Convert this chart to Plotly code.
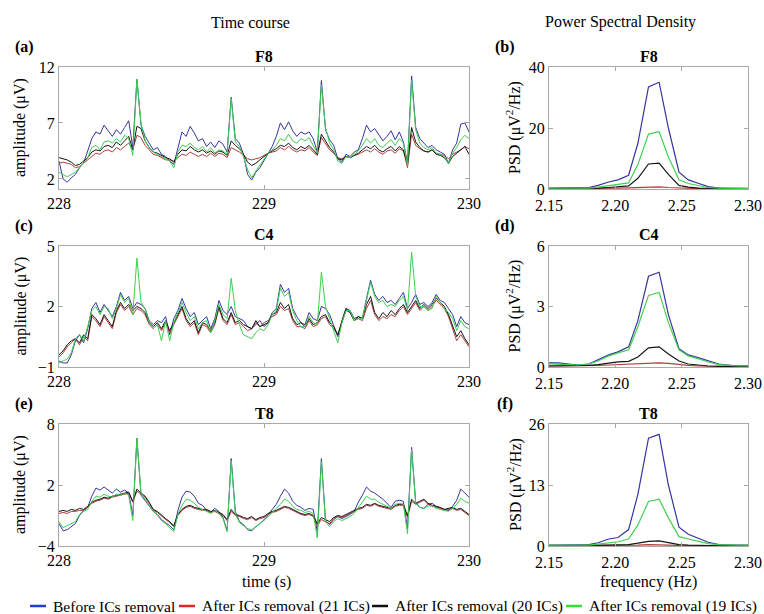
import plotly.graph_objects as go

# ---------------- DATA ----------------
t_start = 228.0
sample_step = 0.02   # s
n_samples = 101
time_s = [round(t_start + sample_step * i, 2) for i in range(n_samples)]

series_names = ["Before ICs removal", "After ICs removal (21 ICs)",
                "After ICs removal (20 ICs)", "After ICs removal (19 ICs)"]

# F8 time course (µV)
f8_before = [3.6, 2.0, 1.7, 2.1, 2.4, 3.0, 3.4, 4.6, 5.6, 6.2, 6.0, 6.8, 6.3, 5.8, 6.4, 6.0, 6.6, 7.2, 4.8, 10.9,
             6.8, 5.8, 5.2, 4.6, 4.8, 4.2, 4.0, 3.6, 3.3, 4.8, 6.2, 5.8, 6.7, 6.1, 5.4, 5.6, 4.9, 5.3, 4.8, 5.4,
             5.1, 4.4, 9.3, 5.6, 5.2, 4.2, 2.4, 1.9, 2.6, 3.0, 3.6, 4.2, 4.9, 5.8, 7.0, 6.4, 7.1, 6.3, 5.8, 6.2,
             6.0, 6.2, 5.6, 4.4, 10.8, 6.4, 5.5, 5.0, 3.8, 3.5, 4.2, 4.0, 4.4, 4.6, 5.6, 6.8, 6.2, 6.5, 5.9, 5.4,
             5.8, 6.3, 5.5, 6.2, 5.3, 3.4, 11.2, 6.6, 5.6, 5.2, 4.8, 5.0, 4.6, 4.4, 4.2, 3.4, 4.6, 5.2, 6.9, 7.0, 6.2]
f8_21 = [3.4, 3.5, 3.4, 3.3, 3.0, 3.1, 3.4, 3.7, 4.0, 4.3, 4.2, 4.5, 4.6, 4.4, 4.8, 4.6, 4.9, 5.2, 4.6, 5.9,
         5.7, 5.0, 4.6, 4.2, 4.1, 3.9, 3.7, 3.7, 3.6, 3.9, 4.2, 4.1, 4.4, 4.2, 4.0, 4.2, 4.0, 4.3, 4.0, 4.3,
         4.2, 3.9, 4.8, 4.6, 4.4, 4.1, 3.8, 3.7, 3.8, 3.9, 4.1, 4.3, 4.4, 4.5, 4.8, 4.6, 4.9, 4.6, 4.4, 4.6,
         4.5, 4.8, 4.4, 4.1, 5.7, 5.1, 4.6, 4.3, 3.9, 3.8, 4.0, 3.9, 4.1, 4.2, 4.4, 4.6, 4.4, 4.7, 4.4, 4.2,
         4.5, 4.6, 4.3, 4.7, 4.5, 3.0, 6.0, 5.0, 4.7, 4.5, 4.4, 4.6, 4.3, 4.2, 4.1, 3.8, 4.2, 4.4, 4.6, 4.9, 4.7]
f8_20 = [3.9, 3.8, 3.7, 3.5, 3.2, 3.3, 3.6, 3.9, 4.4, 4.6, 4.5, 4.9, 5.0, 4.8, 5.3, 5.0, 5.4, 5.8, 4.6, 6.7,
         6.5, 5.4, 4.8, 4.4, 4.3, 4.1, 3.9, 3.8, 3.5, 4.2, 4.6, 4.5, 4.9, 4.6, 4.4, 4.6, 4.3, 4.5, 4.2, 4.5,
         4.4, 4.1, 5.4, 5.0, 4.7, 4.2, 3.5, 3.2, 3.4, 3.7, 4.0, 4.3, 4.5, 4.7, 5.0, 4.9, 5.2, 4.8, 4.6, 4.9,
         4.7, 5.0, 4.6, 4.2, 6.0, 5.4, 4.8, 4.4, 3.8, 3.7, 4.0, 3.9, 4.1, 4.3, 4.6, 4.9, 4.7, 5.0, 4.6, 4.4,
         4.7, 4.9, 4.5, 4.9, 4.6, 3.3, 6.6, 5.3, 4.8, 4.5, 4.4, 4.6, 4.2, 4.1, 3.9, 3.4, 4.0, 4.3, 4.6, 4.9, 4.2]
f8_19 = [2.6, 2.4, 2.2, 2.4, 2.6, 3.0, 3.4, 3.9, 4.8, 5.0, 4.6, 5.3, 5.4, 5.2, 5.6, 5.3, 5.9, 5.6, 4.1, 10.9,
         7.0, 5.4, 4.8, 4.4, 4.2, 4.0, 3.8, 3.6, 3.0, 4.4, 5.0, 4.9, 5.2, 4.8, 4.6, 4.9, 4.4, 4.8, 4.3, 4.6,
         4.5, 4.2, 9.2, 5.3, 4.9, 4.0, 2.8, 2.1, 2.7, 3.2, 3.8, 4.3, 4.6, 5.0, 5.6, 5.4, 6.0, 5.4, 5.2, 5.6,
         5.4, 5.7, 5.0, 4.3, 10.4, 6.6, 5.2, 4.6, 3.6, 3.4, 4.0, 3.9, 4.2, 4.5, 5.0, 5.6, 5.2, 5.6, 5.0, 4.8,
         5.2, 5.5, 5.0, 5.6, 5.2, 3.2, 10.8, 6.4, 5.2, 4.8, 4.6, 4.8, 4.3, 4.2, 4.0, 3.4, 4.3, 4.8, 5.5, 5.9, 5.6]

# C4 time course (µV)
c4_before = [-0.7, -0.8, -0.8, -0.4, 0.3, 0.6, 0.2, 0.9, 1.9, 2.2, 1.7, 2.1, 1.8, 1.5, 2.0, 2.7, 2.3, 2.5, 1.9, 2.2,
             2.1, 1.9, 1.3, 1.1, 1.3, 1.2, 1.5, 0.6, 1.4, 1.8, 2.4, 1.9, 1.5, 1.7, 1.1, 1.3, 1.5, 0.9, 1.4, 2.3,
             1.8, 1.6, 2.0, 1.5, 1.4, 1.3, 1.0, 0.9, 1.1, 1.3, 1.0, 1.2, 1.7, 1.9, 3.1, 2.7, 2.9, 1.9, 1.5, 1.2,
             1.1, 1.7, 1.4, 1.3, 2.0, 1.9, 1.6, 1.0, 0.5, 1.3, 1.9, 1.8, 1.4, 1.5, 1.4, 2.4, 3.3, 2.6, 2.3, 2.5,
             2.2, 2.3, 2.1, 2.4, 2.7, 1.9, 2.2, 2.6, 2.1, 2.2, 2.0, 2.2, 2.6, 2.3, 2.2, 1.9, 1.6, 1.0, 1.5, 1.2, 1.1]
c4_21 = [-0.5, -0.3, 0.0, 0.2, 0.4, 0.1, 0.5, 0.3, 1.5, 1.3, 1.0, 1.5, 1.2, 0.9, 1.7, 2.1, 1.8, 2.0, 1.6, 1.9,
         1.8, 1.6, 1.1, 0.9, 1.1, 0.8, 1.2, 0.7, 1.1, 1.5, 1.9, 1.3, 1.0, 1.2, 0.6, 1.1, 1.0, 0.7, 1.1, 1.9,
         1.3, 1.1, 1.6, 1.1, 1.2, 1.0, 0.8, 0.9, 1.2, 1.0, 1.2, 1.3, 1.5, 1.6, 2.0, 1.8, 1.9, 1.3, 1.0, 1.0,
         0.9, 1.3, 1.0, 1.1, 1.4, 1.5, 1.1, 0.9, 0.6, 1.2, 1.8, 1.7, 1.3, 1.4, 1.3, 1.9, 2.3, 1.6, 1.3, 1.5,
         1.4, 1.6, 1.5, 1.8, 2.0, 1.6, 1.9, 2.2, 1.8, 2.0, 1.8, 2.0, 2.3, 2.1, 1.9, 1.5, 0.9, 0.3, 0.6, 0.3, 0.0]
c4_20 = [-0.4, -0.2, 0.1, 0.3, 0.4, 0.2, 0.6, 0.4, 1.6, 1.4, 1.1, 1.6, 1.3, 1.0, 1.8, 2.2, 1.9, 2.1, 1.8, 2.0,
         1.9, 1.7, 1.2, 1.0, 1.2, 0.9, 1.3, 0.8, 1.2, 1.6, 2.0, 1.4, 1.1, 1.3, 0.7, 1.2, 1.1, 0.8, 1.2, 2.0,
         1.4, 1.2, 1.7, 1.2, 1.3, 1.1, 1.0, 0.9, 1.3, 1.0, 1.1, 1.2, 1.6, 1.7, 2.2, 1.9, 2.1, 1.4, 1.1, 1.2,
         1.0, 1.4, 1.1, 1.2, 1.5, 1.6, 1.2, 1.0, 0.6, 1.2, 1.9, 1.7, 1.3, 1.5, 1.4, 2.1, 2.5, 1.7, 1.4, 1.7,
         1.5, 1.8, 1.6, 1.9, 2.1, 1.7, 2.0, 2.3, 1.9, 2.1, 1.9, 2.1, 2.4, 2.2, 2.0, 1.6, 1.0, 0.5, 0.8, 0.4, 0.1]
c4_19 = [-0.8, -0.7, -0.6, -0.3, 0.4, 0.6, 0.3, 1.0, 1.8, 2.0, 1.6, 2.0, 1.9, 1.4, 1.9, 2.6, 2.2, 2.4, 1.6, 4.4,
         2.2, 1.9, 1.2, 0.9, 1.1, 0.3, 1.3, 0.3, 1.2, 1.7, 2.2, 1.7, 1.3, 1.5, 0.9, 1.2, 1.3, 0.7, 1.3, 2.1,
         1.6, 1.4, 3.4, 1.8, 1.1, 0.6, 0.5, 0.4, 0.7, 0.9, 0.8, 1.1, 1.6, 1.8, 2.9, 2.5, 2.7, 1.8, 1.3, 1.0,
         1.0, 1.5, 1.2, 1.1, 3.7, 2.0, 1.4, 0.8, 0.2, 1.2, 1.8, 1.8, 1.3, 1.4, 1.4, 2.3, 3.2, 2.5, 2.2, 2.3,
         2.0, 2.1, 2.0, 2.3, 2.5, 1.8, 4.7, 2.5, 2.0, 2.0, 1.8, 1.9, 2.5, 2.2, 1.9, 1.7, 1.4, 0.8, 1.3, 1.0, 0.9]

# T8 time course (µV)
t8_before = [-1.8, -2.5, -2.4, -2.1, -1.8, -1.0, -0.5, -0.2, 0.9, 1.7, 1.5, 1.8, 1.5, 1.2, 1.6, 1.3, 1.5, 1.2, -1.0, 6.6,
             1.0, 0.5, 0.0, -0.6, -0.9, -1.4, -1.7, -2.0, -2.4, -0.5, 0.8, 1.4, 1.3, 0.9, 0.2, 0.0, -0.5, -0.7, -0.3, -0.6,
             -1.2, -2.5, 4.6, -0.6, -1.6, -1.9, -2.4, -2.5, -2.1, -1.8, -1.4, -1.0, -0.4, 0.1, 0.9, 1.6, 1.2, 0.4, 0.0, -0.2,
             -0.5, -0.3, -0.4, -2.6, 4.6, -1.5, -1.9, -1.4, -1.1, -1.3, -1.1, -0.9, -0.6, 0.3, 1.0, 1.8, 1.4, 1.2, 0.9, 0.6,
             0.2, -0.2, 0.4, 0.5, 0.4, -2.3, 5.7, 0.3, -0.2, -0.3, 0.1, 0.2, -0.1, -0.3, -0.4, -0.5, -0.1, 0.5, 1.6, 1.2, 0.8]
t8_21 = [-0.8, -0.7, -0.8, -0.6, -0.6, -0.5, -0.5, -0.2, 0.2, 0.4, 0.5, 0.7, 0.6, 0.8, 0.9, 1.0, 1.1, 1.2, 0.3, 1.4,
         1.1, 0.8, 0.2, -0.5, -0.7, -1.1, -1.4, -1.7, -2.1, -1.0, -0.5, -0.2, -0.1, -0.3, -0.4, -0.5, -0.5, -0.7, -0.6, -0.8,
         -1.0, -1.5, -0.6, -1.0, -1.1, -1.3, -1.4, -1.2, -1.5, -1.3, -1.2, -0.9, -0.7, -0.6, -0.4, -0.2, -0.3, -0.5, -0.7, -0.9,
         -1.0, -0.9, -1.1, -2.0, -1.4, -1.6, -1.8, -1.3, -1.1, -1.2, -1.0, -0.8, -0.6, -0.4, -0.3, 0.0, -0.1, 0.1, -0.1, -0.2,
         -0.3, -0.4, -0.1, 0.0, 0.0, -1.2, 0.4, 0.1, 0.3, 0.5, 0.1, -0.1, -0.2, -0.3, -0.5, -0.4, -0.3, -0.5, -0.4, -0.7, -1.0]
t8_20 = [-0.6, -0.5, -0.6, -0.4, -0.5, -0.3, -0.4, -0.1, 0.3, 0.5, 0.6, 0.8, 0.7, 0.9, 1.0, 1.1, 1.2, 1.3, 0.4, 1.6,
         1.2, 0.9, 0.3, -0.4, -0.6, -1.0, -1.3, -1.6, -2.0, -0.9, -0.4, -0.1, 0.0, -0.2, -0.3, -0.4, -0.4, -0.6, -0.5, -0.7,
         -0.9, -1.4, -0.4, -0.9, -1.0, -1.2, -1.3, -1.1, -1.4, -1.2, -1.1, -0.8, -0.6, -0.5, -0.3, -0.1, -0.2, -0.4, -0.6, -0.8,
         -0.9, -0.8, -1.0, -1.8, -1.2, -1.4, -1.6, -1.2, -1.0, -1.1, -0.9, -0.7, -0.5, -0.3, -0.2, 0.1, 0.0, 0.2, 0.0, -0.1,
         -0.2, -0.3, 0.0, 0.1, 0.1, -1.0, 0.6, 0.2, 0.4, 0.6, 0.2, 0.0, -0.1, -0.2, -0.4, -0.3, -0.2, -0.4, -0.3, -0.6, -0.9]
t8_19 = [-1.6, -2.2, -2.0, -1.8, -1.6, -0.9, -0.6, -0.4, 0.4, 0.9, 0.8, 1.1, 0.9, 0.8, 1.1, 1.0, 1.2, 1.0, -1.5, 6.6,
         1.2, 0.6, 0.0, -0.6, -1.0, -1.5, -1.8, -2.2, -2.6, -0.9, 0.0, 0.6, 0.5, 0.2, -0.2, -0.4, -0.6, -0.8, -0.5, -0.8,
         -1.3, -2.6, 4.4, -0.8, -1.7, -2.0, -2.3, -2.4, -2.1, -1.8, -1.5, -1.1, -0.7, -0.4, 0.1, 0.6, 0.4, -0.1, -0.4, -0.5,
         -0.7, -0.6, -0.8, -3.2, 4.3, -1.6, -2.1, -1.6, -1.3, -1.5, -1.3, -1.1, -0.8, -0.2, 0.3, 0.9, 0.6, 0.6, 0.3, 0.1,
         -0.1, -0.3, 0.1, 0.2, 0.1, -2.8, 5.5, 0.2, -0.2, -0.3, -0.1, 0.0, -0.3, -0.4, -0.5, -0.6, -0.3, 0.1, 0.7, 0.4, 0.2]

# Power spectral density (µV²/Hz)
freq_hz = [2.150, 2.157, 2.165, 2.172, 2.180, 2.187, 2.195, 2.202, 2.210, 2.217, 2.225,
           2.233, 2.240, 2.248, 2.255, 2.263, 2.270, 2.278, 2.285, 2.293, 2.300]
psd_f8_before = [0.3, 0.3, 0.3, 0.3, 0.5, 1.2, 2.3, 3.0, 4.5, 15.0, 33.5, 35.0, 20.0, 5.5, 3.0, 1.8, 0.8, 0.3, 0.2, 0.2, 0.2]
psd_f8_21 = [0.1, 0.1, 0.1, 0.1, 0.1, 0.2, 0.3, 0.3, 0.4, 0.5, 0.7, 0.7, 0.5, 0.3, 0.2, 0.1, 0.1, 0.1, 0.1, 0.1, 0.1]
psd_f8_20 = [0.1, 0.1, 0.1, 0.1, 0.2, 0.3, 0.5, 0.8, 1.0, 3.5, 8.2, 8.5, 4.8, 1.2, 0.6, 0.3, 0.2, 0.1, 0.1, 0.1, 0.1]
psd_f8_19 = [0.3, 0.3, 0.2, 0.2, 0.3, 0.6, 1.2, 1.5, 2.0, 8.0, 18.0, 18.8, 10.5, 3.0, 1.8, 1.0, 0.5, 0.3, 0.2, 0.2, 0.2]
psd_c4_before = [0.2, 0.2, 0.15, 0.1, 0.15, 0.35, 0.6, 0.75, 1.0, 2.3, 4.5, 4.7, 2.6, 0.9, 0.6, 0.45, 0.3, 0.15, 0.1, 0.05, 0.05]
psd_c4_21 = [0.05, 0.05, 0.05, 0.05, 0.05, 0.08, 0.1, 0.12, 0.15, 0.18, 0.2, 0.2, 0.18, 0.12, 0.08, 0.05, 0.05, 0.03, 0.03, 0.03, 0.03]
psd_c4_20 = [0.05, 0.05, 0.05, 0.05, 0.08, 0.12, 0.2, 0.25, 0.28, 0.5, 0.95, 1.0, 0.65, 0.3, 0.15, 0.08, 0.05, 0.03, 0.03, 0.03, 0.03]
psd_c4_19 = [0.15, 0.15, 0.12, 0.1, 0.15, 0.3, 0.55, 0.7, 0.85, 2.0, 3.55, 3.7, 2.2, 0.85, 0.55, 0.4, 0.25, 0.12, 0.08, 0.05, 0.05]
psd_t8_before = [0.2, 0.2, 0.2, 0.2, 0.3, 0.7, 1.5, 1.8, 3.5, 11.0, 23.0, 23.8, 13.0, 4.0, 2.5, 1.6, 0.8, 0.3, 0.2, 0.2, 0.2]
psd_t8_21 = [0.05, 0.05, 0.05, 0.05, 0.05, 0.08, 0.1, 0.1, 0.15, 0.2, 0.3, 0.3, 0.2, 0.1, 0.08, 0.05, 0.05, 0.05, 0.05, 0.05, 0.05]
psd_t8_20 = [0.05, 0.05, 0.05, 0.05, 0.1, 0.15, 0.2, 0.25, 0.3, 0.6, 1.0, 1.1, 0.7, 0.3, 0.2, 0.1, 0.05, 0.05, 0.05, 0.05, 0.05]
psd_t8_19 = [0.2, 0.2, 0.1, 0.1, 0.2, 0.4, 0.7, 0.9, 1.5, 4.5, 9.5, 10.0, 6.0, 2.0, 1.5, 1.0, 0.5, 0.3, 0.2, 0.2, 0.2]

amp_ticks = {"F8": [2, 7, 12], "C4": [-1, 2, 5], "T8": [-4, 2, 8]}
amp_ranges = {"F8": [1.1, 12], "C4": [-1, 5], "T8": [-4, 8]}
psd_ticks = {"F8": [0, 20, 40], "C4": [0, 3, 6], "T8": [0, 13, 26]}
time_ticks = [228, 229, 230]
freq_ticks = [2.15, 2.20, 2.25, 2.30]

# ---------------- STYLE ----------------
FONT = "Liberation Serif"
line_colors = ["#35359f", "#b43c3c", "#151515", "#3ed04e"]
legend_colors = ["#1f3fd2", "#e02626", "#111111", "#35e035"]
draw_order = [0, 1, 2, 3]

W, H = 764, 614
def px(x):
    return x / W
def py(y):
    return 1 - y / H

left_dom = [px(59), px(469)]
right_dom = [px(549), px(748)]
rows_px = [(67, 189), (246, 367), (424, 546)]
row_doms = [[py(b), py(a)] for a, b in rows_px]

channels = ["F8", "C4", "T8"]
time_data = {"F8": [f8_before, f8_21, f8_20, f8_19],
             "C4": [c4_before, c4_21, c4_20, c4_19],
             "T8": [t8_before, t8_21, t8_20, t8_19]}
psd_data = {"F8": [psd_f8_before, psd_f8_21, psd_f8_20, psd_f8_19],
            "C4": [psd_c4_before, psd_c4_21, psd_c4_20, psd_c4_19],
            "T8": [psd_t8_before, psd_t8_21, psd_t8_20, psd_t8_19]}

fig = go.Figure()
layout = {}

axis_common = dict(showline=True, linecolor="#a9a9a9", linewidth=1, mirror="ticks",
                   ticks="inside", ticklen=4, tickcolor="#a9a9a9", showgrid=False,
                   zeroline=False, automargin=False,
                   tickfont=dict(family=FONT, size=16, color="black"),
                   fixedrange=True)

for r, ch in enumerate(channels):
    ax_t = 2 * r + 1
    ax_p = 2 * r + 2
    for k in draw_order:
        fig.add_trace(go.Scatter(x=time_s, y=time_data[ch][k], mode="lines", name=series_names[k],
                                 line=dict(color=line_colors[k], width=1), showlegend=False,
                                 xaxis=f"x{ax_t}", yaxis=f"y{ax_t}"))
    for k in draw_order:
        fig.add_trace(go.Scatter(x=freq_hz, y=psd_data[ch][k], mode="lines", name=series_names[k],
                                 line=dict(color=line_colors[k], width=1.2), showlegend=False,
                                 xaxis=f"x{ax_p}", yaxis=f"y{ax_p}"))
    sfx_t = "" if ax_t == 1 else str(ax_t)
    sfx_p = str(ax_p)
    layout[f"xaxis{sfx_t}"] = dict(axis_common, domain=left_dom, anchor=f"y{ax_t}",
                                   range=[228, 230], tickvals=time_ticks, ticktext=[str(v) for v in time_ticks])
    layout[f"yaxis{sfx_t}"] = dict(axis_common, domain=row_doms[r], anchor=f"x{ax_t}",
                                   range=amp_ranges[ch], tickvals=amp_ticks[ch],
                                   ticktext=[str(v).replace("-", "\u2212") for v in amp_ticks[ch]])
    layout[f"xaxis{sfx_p}"] = dict(axis_common, domain=right_dom, anchor=f"y{ax_p}",
                                   range=[2.15, 2.30], tickvals=freq_ticks,
                                   ticktext=[f"{v:.2f}" for v in freq_ticks], ticklabelstandoff=2)
    layout[f"yaxis{sfx_p}"] = dict(axis_common, domain=row_doms[r], anchor=f"x{ax_p}",
                                   range=[0, psd_ticks[ch][-1]], tickvals=psd_ticks[ch],
                                   ticktext=[str(v) for v in psd_ticks[ch]])

ann = []
def text(x, y, s, size=16, bold=False, angle=0, xanchor="center"):
    ann.append(dict(x=px(x), y=py(y), xref="paper", yref="paper", text=(f"<b>{s}</b>" if bold else s),
                    showarrow=False, textangle=angle, xanchor=xanchor, yanchor="middle",
                    font=dict(family=FONT, size=size, color="black")))

text(250, 22, "Time course", 16)
text(620, 22, "Power Spectral Density", 16)
panel_labels = [("(a)", "(b)"), ("(c)", "(d)"), ("(e)", "(f)")]
for r, ch in enumerate(channels):
    top, bottom = rows_px[r]
    text(24, top - 20, panel_labels[r][0], 16, bold=True)
    text(505, top - 20, panel_labels[r][1], 16, bold=True)
    text(264, top - 11, ch, 16, bold=True)
    text(648.5, top - 11, ch, 16, bold=True)
    mid = (top + bottom) / 2
    text(20, mid, "amplitude (\u03bcV)", 16, angle=-90)
    text(514, mid, "PSD (\u03bcV<sup>2</sup>/Hz)", 16, angle=-90)
text(266, 582, "time (s)", 16)
text(648, 582, "frequency (Hz)", 16)

# manual legend (short line samples + labels)
shapes = []
legend_items = [(30, 51), (179, 200), (372, 393), (566, 587)]
for k, (x0, xt) in enumerate(legend_items):
    shapes.append(dict(type="line", xref="paper", yref="paper", x0=px(x0), x1=px(x0 + 16),
                       y0=py(606), y1=py(606), line=dict(color=legend_colors[k], width=2.5)))
    text(xt, 606, series_names[k], 15.5, xanchor="left")

fig.update_layout(template="none", width=W, height=H, margin=dict(l=0, r=0, t=0, b=0, pad=0),
                  paper_bgcolor="white", plot_bgcolor="white",
                  font=dict(family=FONT, size=16, color="black"),
                  showlegend=False, annotations=ann, shapes=shapes, **layout)

fig.write_html("out.html")
